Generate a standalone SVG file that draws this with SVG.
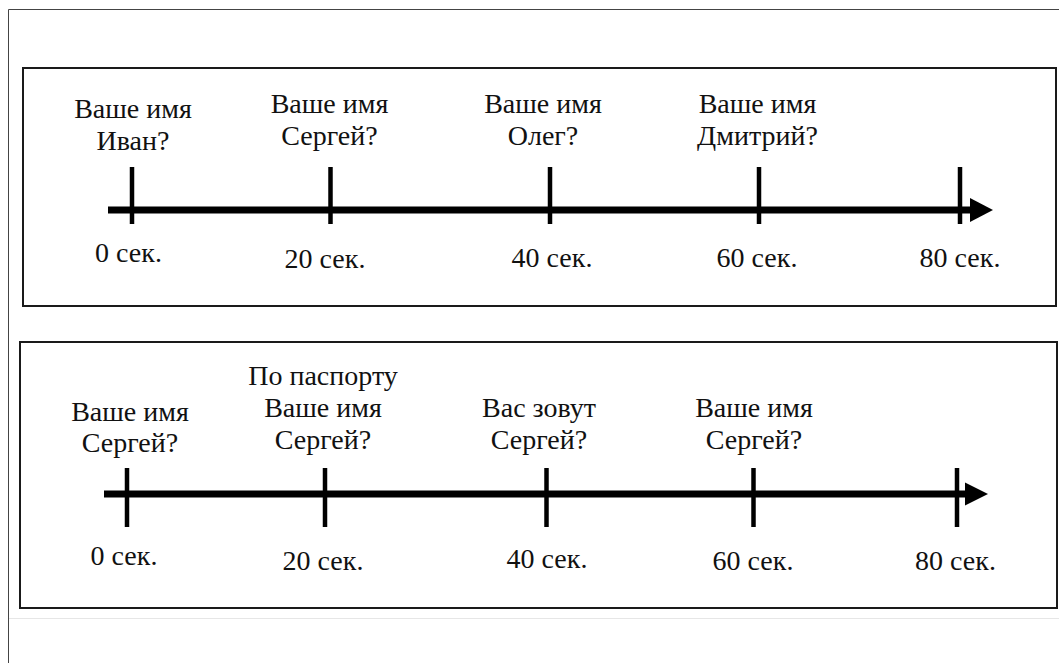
<svg xmlns="http://www.w3.org/2000/svg" width="1059" height="663" viewBox="0 0 1059 663" xml:lang="ru" lang="ru">
<rect width="1059" height="663" fill="#fff"/>
<g id="frame" fill="none" stroke-width="1">
<path d="M8.5 663 V9.5 H1059" stroke="#444"/>
<path d="M9 618.5 H1059" stroke="#e6e6e6"/>
</g>
<g id="panels" fill="#fff" stroke="#1a1a1a" stroke-width="2">
<g id="panel-top"><rect x="23" y="68" width="1033" height="238"/></g>
<g id="panel-bottom"><rect x="20" y="342" width="1037" height="266"/></g>
</g>
<g id="connectors">
<g stroke="#000" stroke-width="7">
<line x1="108" y1="210" x2="972" y2="210"/>
<line x1="104" y1="494" x2="967" y2="494"/>
</g>
<g fill="#000">
<polygon points="970,198 993,210 970,222"/>
<polygon points="965,482.5 988,494 965,505.5"/>
</g>
</g>
<g id="ticks" stroke="#000" stroke-width="4.5">
<g id="ticks-top">
<line x1="132" y1="167" x2="132" y2="224"/>
<line x1="330.5" y1="167" x2="330.5" y2="224"/>
<line x1="550" y1="167" x2="550" y2="224"/>
<line x1="759" y1="167" x2="759" y2="224"/>
<line x1="960" y1="167" x2="960" y2="224"/>
</g>
<g id="ticks-bottom">
<line x1="127" y1="468" x2="127" y2="527"/>
<line x1="325" y1="468" x2="325" y2="527"/>
<line x1="546.5" y1="468" x2="546.5" y2="527"/>
<line x1="753.5" y1="468" x2="753.5" y2="527"/>
<line x1="957" y1="468" x2="957" y2="527"/>
</g>
</g>
<g id="labels" font-family="Liberation Serif, Times New Roman, serif" font-size="28" fill="#111" text-anchor="middle">
<g id="q-top-1"><text x="133" y="118">Ваше имя</text><text x="133" y="150">Иван?</text></g>
<g id="q-top-2"><text x="329.5" y="113">Ваше имя</text><text x="329.5" y="145">Сергей?</text></g>
<g id="q-top-3"><text x="543" y="113">Ваше имя</text><text x="543" y="145">Олег?</text></g>
<g id="q-top-4"><text x="757.5" y="113">Ваше имя</text><text x="757.5" y="145">Дмитрий?</text></g>
<g id="t-top">
<text x="128.5" y="262">0 сек.</text>
<text x="325" y="268">20 сек.</text>
<text x="552" y="267">40 сек.</text>
<text x="757" y="267">60 сек.</text>
<text x="960" y="267">80 сек.</text>
</g>
<g id="q-bot-1"><text x="130" y="421">Ваше имя</text><text x="130" y="452">Сергей?</text></g>
<g id="q-bot-2"><text x="323" y="384.5">По паспорту</text><text x="323" y="416.5">Ваше имя</text><text x="323" y="448.5">Сергей?</text></g>
<g id="q-bot-3"><text x="539" y="416.5">Вас зовут</text><text x="539" y="448.5">Сергей?</text></g>
<g id="q-bot-4"><text x="754" y="416.5">Ваше имя</text><text x="754" y="448.5">Сергей?</text></g>
<g id="t-bot">
<text x="124" y="565">0 сек.</text>
<text x="323" y="570">20 сек.</text>
<text x="547" y="568">40 сек.</text>
<text x="753" y="570">60 сек.</text>
<text x="955.5" y="570">80 сек.</text>
</g>
</g>
</svg>
